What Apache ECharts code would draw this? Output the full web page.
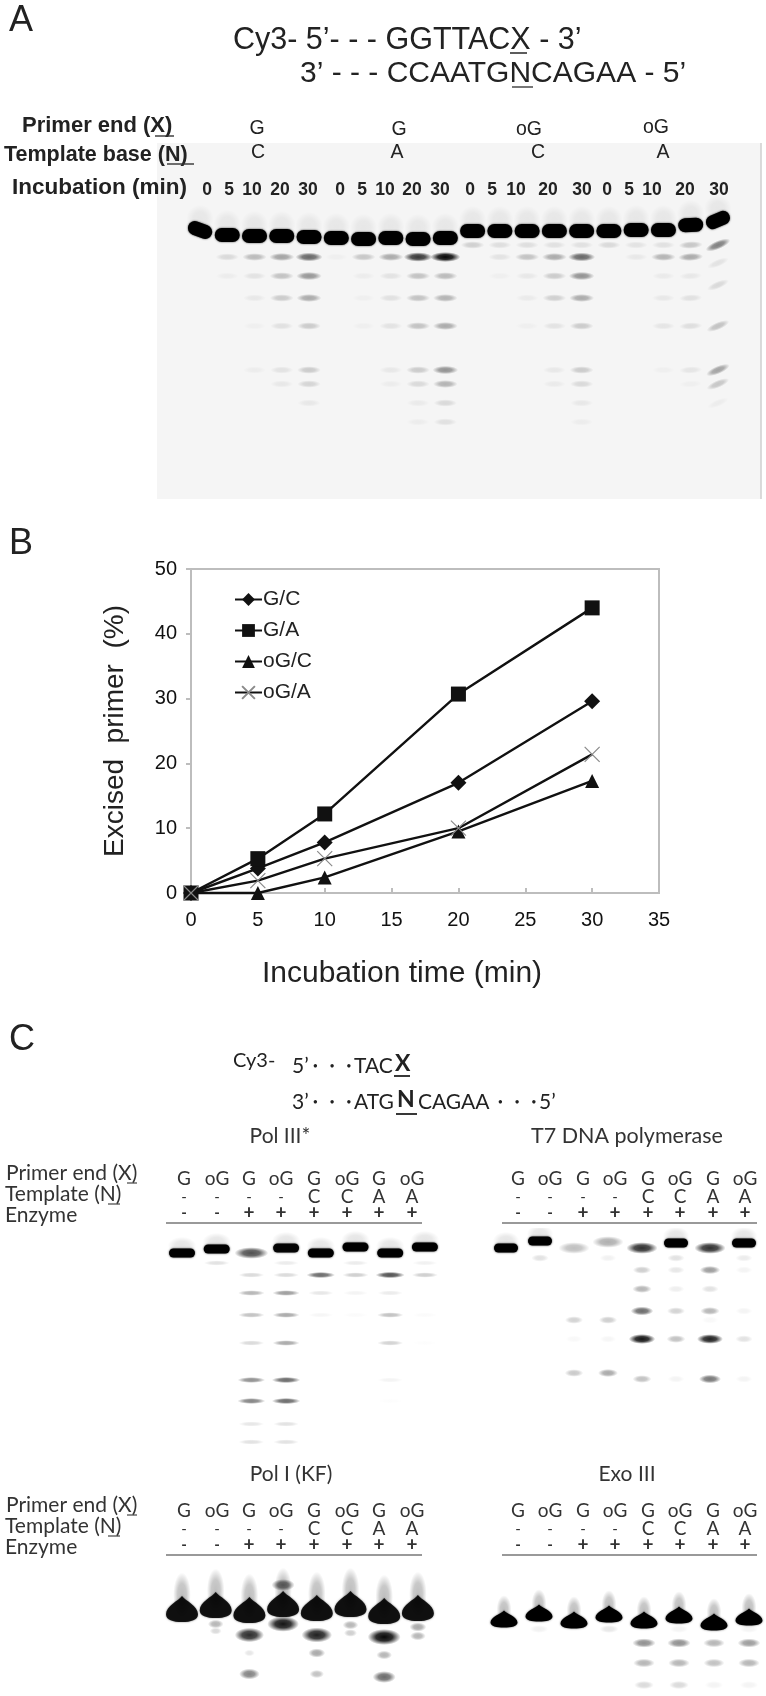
<!DOCTYPE html>
<html><head><meta charset="utf-8">
<style>html,body{margin:0;padding:0;background:#fff}#c{width:766px;height:1696px;filter:blur(0.45px)}</style>
<script src="https://cdn.jsdelivr.net/npm/echarts@6/dist/echarts.min.js"></script></head>
<body><div id="c"></div>
<script>
// ---------- Panel B data ----------
const timeMin=[0,5,10,20,30];
const seriesNames=['G/C','G/A','oG/C','oG/A'];
const valuesGC=[0,3.8,7.8,17,29.6];
const valuesGA=[0,5.3,12.2,30.7,44];
const valuesOGC=[0,0,2.4,9.5,17.3];
const valuesOGA=[0,1.9,5.3,10,21.4];

// ---------- Panel A gel data: band migration and intensity per lane ----------
const gelATimes=['0','5','10','20','30','0','5','10','20','30','0','5','10','20','30','0','5','10','20','30'];
const gelAMainMig=[87,92,93,93,94,95,96,95,96,95,88,88,88,88,88,88,87,87,82,77];
const gelAMainInt=[1,1,1,1,1,1,1,1,1,1,1,1,1,1,1,1,1,1,1,1];
const gelALevels=[102,114,133,155,183,227,241,260,279];
const gelAMatrix=[
[0,0,0,0,0,0,0,0,0,0,.16,.1,.1,.09,.09,.12,.08,.09,.2,.5],
[0,.12,.25,.35,.6,.03,.2,.32,.8,1,0,.08,.22,.32,.6,0,.06,.28,.32,0],
[0,.04,.08,.22,.4,0,.04,.08,.22,.25,0,.03,.06,.18,.42,0,0,.05,.06,0],
[0,0,.06,.18,.32,0,.03,.09,.22,.28,0,0,.05,.16,.32,0,0,.06,.09,0],
[0,0,.03,.09,.18,0,.03,.08,.22,.32,0,0,.03,.08,.18,0,0,.07,.1,.22],
[0,0,.04,.08,.18,0,0,.06,.18,.42,0,0,0,.06,.18,0,0,.03,.07,.35],
[0,0,0,.06,.14,0,0,.04,.12,.28,0,0,0,.05,.12,0,0,0,.03,.2],
[0,0,0,0,.06,0,0,0,.05,.12,0,0,0,0,.06,0,0,0,0,.04],
[0,0,0,0,0,0,0,0,.04,.09,0,0,0,0,.04,0,0,0,0,0]];

// ---------- Panel C gel data ----------
const colPrimer=['G','oG','G','oG','G','oG','G','oG'];
const colTemplate=['-','-','-','-','C','C','A','A'];
const colEnzyme=['-','-','+','+','+','+','+','+'];

const pol3MainMig=[25,21,25,20,25,19,25,19];
const pol3MainInt=[1,1,.55,.95,1,1,1,1];
const pol3Levels=[35,47,65,87,115,152,173,196,214];
const pol3Matrix=[
[0,.12,0,.08,0,.08,0,.06],
[0,0,.15,.15,.6,.2,.7,.2],
[0,0,.3,.4,.1,.05,.08,0],
[0,0,.25,.35,.04,.02,.25,.02],
[0,0,.15,.35,0,0,.18,.01],
[0,0,.45,.6,0,0,.05,0],
[0,0,.5,.6,0,0,.01,0],
[0,0,.1,.12,0,0,0,0],
[0,0,.12,.12,0,0,0,0]];

const t7MainMig=[20,13,20,14,20,15,20,15];
const t7MainInt=[1,1,.2,.25,.65,1,.65,1];
const t7Levels=[30,42,61,83,92,111,145,151];
const t7Matrix=[
[0,.12,0,.06,0,.12,0,.08],
[0,0,0,0,.2,.1,.4,.05],
[0,0,0,0,.3,.07,.12,0],
[0,0,0,0,.6,.18,.3,.05],
[0,0,.18,.2,0,0,.03,0],
[0,0,.03,.04,.95,.25,.9,.12],
[0,0,.22,.35,0,0,0,0],
[0,0,0,0,.25,.05,.55,.05]];

const kfMainMig=[49,45,50,44,48,44,51,48];
const kfMainInt=[.88,.88,.88,.88,.88,.88,.88,.88];
const kfBands=[[3,64,.95],[3,25,.6],[2,75,.85],[4,75,.9],[6,77,1],[1,64,.3],[1,71,.15],[5,65,.3],[5,73,.2],[7,67,.35],[7,76,.3],
[2,93,.1],[4,93,.35],[6,95,.3],[2,114,.5],[4,114,.25],[6,117,.6]];

const exoMainMig=[59,53,60,54,60,55,62,57];
const exoMainInt=[1,1,1,1,1,1,1,1];
const exoLevels=[69,83,103,125];
const exoMatrix=[
[0,.06,0,.1,0,.05,0,.05],
[0,0,0,0,.45,.45,.3,.4],
[0,0,0,0,.3,.3,.25,.3],
[0,0,0,0,.15,.15,.05,.05]];

// ---------- layout ----------
const gels=[
 {left:157,width:604,top:143,height:356,x0:200,dx:27.26,bandW:30,bandH:10,wMin:.75,hMin:.7,mainW:25,mainH:14,bg:'#f5f5f5',tilt:{0:-0.35,18:0.05,19:0.4},haze:.06,
  main:[gelAMainMig,gelAMainInt],levels:gelALevels,matrix:gelAMatrix,extra:[[19,120,.08],[19,142,.12]]},
 {left:160,width:280,top:1228,height:225,x0:182,dx:34.7,bandW:31,bandH:7,wMin:.8,hMin:.7,mainW:26,mainH:9,tilt:{},haze:.1,
  main:[pol3MainMig,pol3MainInt],levels:pol3Levels,matrix:pol3Matrix,extra:[]},
 {left:490,width:276,top:1228,height:225,x0:506,dx:34,bandW:27,bandH:10,wMin:.6,hMin:.7,mainW:24,mainH:9,tilt:{},haze:.1,
  main:[t7MainMig,t7MainInt],levels:t7Levels,matrix:t7Matrix,extra:[]},
 {left:160,width:280,top:1560,height:136,x0:182,dx:33.7,bandW:33,bandH:16,wMin:.25,hMin:.35,mainW:32,mainH:26,tilt:{},haze:.25,spade:true,
  main:[kfMainMig,kfMainInt],levels:[],matrix:[],extra:kfBands},
 {left:488,width:278,top:1560,height:136,x0:504,dx:35,bandW:30,bandH:11,wMin:.6,hMin:.7,mainW:27,mainH:17,tilt:{},haze:.25,spade:true,
  main:[exoMainMig,exoMainInt],levels:exoLevels,matrix:exoMatrix,extra:[]}
];

const SPADE='M50 0C60 18 100 38 100 70C100 92 78 100 50 100C22 100 0 92 0 70C0 38 40 18 50 0Z';
const rgba=a=>'rgba(0,0,0,'+a.toFixed(3)+')';
function soft(cx,cy,w,h,a,rot){
 return {type:'circle',x:cx,y:cy,rotation:rot||0,scaleX:w/h,scaleY:1,shape:{cx:0,cy:0,r:h/2},
  style:{fill:{type:'radial',x:.5,y:.5,r:.5,colorStops:[{offset:0,color:rgba(a)},{offset:.5,color:rgba(a*.85)},{offset:1,color:rgba(0)}]}}};
}
function renderBand(gel){
 return function(params,api){
  const lane=api.value(0),mig=api.value(1),i=api.value(2),isMain=api.value(3)===1;
  const c=api.coord([lane,mig]);
  const tilt=gel.tilt[lane]||0;
  const kids=[];
  if(isMain&&gel.spade){
    const w=gel.mainW,h=gel.mainH;
    kids.push(soft(c[0],c[1]-h*.55,w*.55,h*1.7,gel.haze,0));
    kids.push({type:'path',shape:{pathData:SPADE,layout:'cover',x:c[0]-w/2,y:c[1]-h/2,width:w,height:h},
      style:{fill:rgba(i),shadowBlur:2,shadowColor:rgba(.6)}});
  }else if(isMain&&i<.7){
    kids.push(soft(c[0],c[1],gel.mainW*1.3,gel.mainH*1.3,Math.min(1,i*1.25),tilt));
  }else if(isMain){
    const w=gel.mainW,h=gel.mainH;
    kids.push(soft(c[0],c[1]-h*.8,w*1.1,h*2,gel.haze,tilt));
    kids.push({type:'rect',x:c[0],y:c[1],rotation:tilt,shape:{x:-w/2,y:-h/2,width:w,height:h,r:h/2},
      style:{fill:rgba(i),shadowBlur:2,shadowColor:rgba(Math.min(1,i*.8))}});
  }else{
    const w=gel.bandW*(gel.wMin+(1-gel.wMin)*i);
    const h=gel.bandH*(gel.hMin+(1-gel.hMin)*i);
    kids.push(soft(c[0],c[1],w,h,Math.min(1,i*.97),tilt));
  }
  return {type:'group',children:kids};
 };
}
function gelData(g){
 const rows=[];
 g.levels.forEach((m,r)=>g.matrix[r].forEach((v,l)=>{if(v>0)rows.push([l,m,v,0]);}));
 g.extra.forEach(e=>rows.push([e[0],e[1],e[2],0]));
 g.main[0].forEach((m,l)=>rows.push([l,m,g.main[1][l],1]));
 return rows;
}

// ---------- option assembly ----------
const grids=[{left:191,top:569,width:468,height:324,show:true,borderColor:'#bdbdbd',borderWidth:2,backgroundColor:'#fff'}];
const xAxes=[{gridIndex:0,type:'value',min:0,max:35,interval:5,name:'Incubation time (min)',nameLocation:'middle',nameGap:66,
 nameTextStyle:{fontFamily:'Liberation Sans',fontSize:30,color:'#222',padding:[0,46,0,0]},
 axisLine:{lineStyle:{color:'#bdbdbd',width:2}},axisTick:{inside:true,length:5,lineStyle:{color:'#bdbdbd',width:2}},splitLine:{show:false},
 axisLabel:{fontFamily:'Liberation Sans',fontSize:20,color:'#111',margin:17}}];
const yAxes=[{gridIndex:0,type:'value',min:0,max:50,interval:10,name:'Excised  primer  (%)',nameLocation:'middle',nameGap:62,nameRotate:90,
 nameTextStyle:{fontFamily:'Liberation Sans',fontSize:28,color:'#222'},
 axisLine:{lineStyle:{color:'#bdbdbd',width:2}},axisTick:{inside:false,length:5,lineStyle:{color:'#bdbdbd',width:2}},splitLine:{show:false},
 axisLabel:{fontFamily:'Liberation Sans',fontSize:20,color:'#111',margin:14}}];
const XMARK='path://M0 0L10 10M10 0L0 10';
const mk=(name,vals,symbol,size,extra)=>Object.assign({type:'line',name,xAxisIndex:0,yAxisIndex:0,data:vals.map((v,i)=>[timeMin[i],v]),
 symbol,symbolSize:size,showAllSymbol:true,clip:false,lineStyle:{color:'#111',width:2.4},itemStyle:{color:'#111'}},extra||{});
const series=[
 mk(seriesNames[0],valuesGC,'diamond',16),
 mk(seriesNames[1],valuesGA,'rect',15),
 mk(seriesNames[2],valuesOGC,'triangle',14),
 mk(seriesNames[3],valuesOGA,XMARK,15,{itemStyle:{color:'none',borderColor:'#8a8a8a',borderWidth:1.2}})
];
gels.forEach((g,k)=>{
 grids.push({left:g.left,top:g.top,width:g.width,height:g.height,show:!!g.bg,backgroundColor:g.bg||'transparent',borderWidth:0});
 xAxes.push({gridIndex:k+1,type:'value',show:false,min:(g.left-g.x0)/g.dx,max:(g.left+g.width-g.x0)/g.dx,splitLine:{show:false}});
 yAxes.push({gridIndex:k+1,type:'value',show:false,inverse:true,min:0,max:g.height,splitLine:{show:false}});
 series.push({type:'custom',silent:true,xAxisIndex:k+1,yAxisIndex:k+1,clip:true,renderItem:renderBand(g),data:gelData(g),
  encode:{x:0,y:1},animation:false,legendHoverLink:false});
});

// ---------- text ----------
const g=[];
const SANS='"Liberation Sans",Arial,sans-serif',LATO='Lato,"Noto Sans",sans-serif';
function T(x,y,text,size,o){o=o||{};g.push({type:'text',x,y,z:10,silent:true,style:{text,fontFamily:o.f||SANS,fontSize:size,fontWeight:o.w||'normal',
 textAlign:o.a||'left',textVerticalAlign:'middle',fill:o.c||'#222'}});}
function L(x1,y1,x2,y2,c,w){g.push({type:'line',z:10,silent:true,shape:{x1,y1,x2,y2},style:{stroke:c,lineWidth:w}});}
T(9,21,'A',36);T(9,544,'B',36);T(9,1040,'C',36);
T(233,41,'Cy3- 5’- - - GGTTACX - 3’',30.5);
T(300,74,'3’ - - - CCAATGNCAGAA - 5’',30);
L(510,53,527,53,'#333',1.6);L(512,87,533,87,'#555',1.6);
T(22,126,'Primer end (X)',22,{w:'bold'});
T(4,155,'Template base (N)',21.5,{w:'bold'});
T(12,188,'Incubation (min)',22.5,{w:'bold'});
L(155,136,174,136,'#333',1.4);L(167,164,194,164,'#333',1.4);
const gelAGroupLabels=['G','G','oG','oG'],gelAGroupBases=['C','A','C','A'];
[[257,129,258],[399,130,397],[529,130,538],[656,128,663]].forEach((p,i)=>{
 T(p[0],p[1],gelAGroupLabels[i],19.5,{a:'center'});T(p[2],153,gelAGroupBases[i],19.5,{a:'center'});});
const gelATimeX=[207,229,252,280,308,340,362,385,412,440,470,492,516,548,582,607,629,652,685,719];
gelATimes.forEach((t,i)=>T(gelATimeX[i],190,t,17.5,{a:'center',w:'bold'}));
L(761,143,761,499,'#cfcfcf',1.5);
// panel C
T(233,1061,'Cy3-',20,{f:LATO});
T(292,1066,'5’',21,{f:LATO});T(332,1066,'•     •     •',9,{f:LATO,a:'center'});T(354,1066,'TAC',21,{f:LATO});
T(395,1064,'X',23,{f:LATO,w:'bold'});L(394,1076,410,1076,'#222',1.8);
T(292,1102,'3’',21,{f:LATO});T(332,1102,'•     •     •',9,{f:LATO,a:'center'});T(354,1102,'ATG',21,{f:LATO});
T(397,1100,'N',23,{f:LATO,w:'bold'});L(396,1114,417,1114,'#222',1.8);
T(418,1102,'CAGAA',21,{f:LATO});T(517,1102,'•     •     •',9,{f:LATO,a:'center'});T(539,1102,'5’',21,{f:LATO});
T(280,1136,'Pol III*',21,{f:LATO,a:'center',c:'#333'});
T(627,1136,'T7 DNA polymerase',21.5,{f:LATO,a:'center',c:'#333'});
T(291,1474,'Pol I (KF)',21,{f:LATO,a:'center',c:'#333'});
T(627,1474,'Exo III',21,{f:LATO,a:'center',c:'#333'});
const colLeft=[184,217,249,281,314,347,379,412],colRight=[518,550,583,615,648,680,713,745];
[1223,1555].forEach(rule=>{
 T(6,rule-50,'Primer end (X)',21,{f:LATO,c:'#333'});
 T(5,rule-29,'Template (N)',21,{f:LATO,c:'#333'});
 T(5,rule-8,'Enzyme',21,{f:LATO,c:'#333'});
 L(127,rule-40,137,rule-40,'#444',1.2);L(108,rule-19,120,rule-19,'#444',1.2);
 L(166,rule,422,rule,'#999',2);L(502,rule,757,rule,'#999',2);
 [colLeft,colRight].forEach(xs=>xs.forEach((x,i)=>{
  T(x,rule-44,colPrimer[i],19,{f:LATO,a:'center',c:'#333'});
  T(x,rule-26,colTemplate[i],colTemplate[i]==='-'?15:19,{f:LATO,a:'center',c:'#333'});
  T(x,rule-10,colEnzyme[i],colEnzyme[i]==='-'?15:19,{f:LATO,a:'center',c:'#333',w:'bold'});
 }));
});

const chart=echarts.init(document.getElementById('c'),null,{renderer:'canvas'});
chart.setOption({animation:false,backgroundColor:'#fff',grid:grids,xAxis:xAxes,yAxis:yAxes,series,graphic:g,
 legend:{data:seriesNames,orient:'vertical',left:229,top:584,itemWidth:27,itemHeight:16,itemGap:10,selectedMode:false,
  textStyle:{fontFamily:'Liberation Sans',fontSize:21,color:'#222',padding:[0,0,0,-4]}}});
</script></body></html>
